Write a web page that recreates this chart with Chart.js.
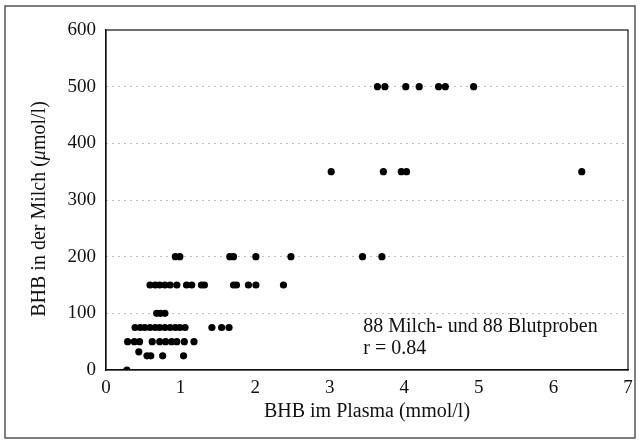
<!DOCTYPE html>
<html>
<head>
<meta charset="utf-8">
<script src="https://cdn.jsdelivr.net/npm/chart.js@4/dist/chart.umd.min.js"></script>
<style>
  html, body { margin: 0; padding: 0; background: #fff; }
  #wrap { position: relative; width: 640px; height: 444px; }
</style>
</head>
<body>
<div id="wrap"><canvas id="c" width="640" height="444"></canvas></div>
<script>
// ── BHB Milch vs. Plasma · Scatter ───────────────────────────────────────────

// ─ Data (plasma mmol/l, milk µmol/l), grouped by milk level ─────────────────
const plasmaRow0   = [0.28];
const plasmaRow25  = [0.44, 0.55, 0.60, 0.76, 1.04];
const milkRow25    = [32, 25, 25, 25, 25];
const plasmaRow50  = [0.29, 0.38, 0.45, 0.62, 0.72, 0.80, 0.88, 0.95, 1.05, 1.18];
const plasmaRow75  = [0.39, 0.46, 0.52, 0.59, 0.66, 0.72, 0.79, 0.86, 0.93, 0.99, 1.06, 1.42, 1.55, 1.65];
const plasmaRow100 = [0.68, 0.73, 0.79];
const plasmaRow150 = [0.59, 0.66, 0.72, 0.79, 0.86, 0.95, 1.08, 1.15, 1.28, 1.32, 1.71, 1.75, 1.91, 2.01, 2.38];
const plasmaRow200 = [0.93, 0.99, 1.66, 1.71, 2.01, 2.48, 3.44, 3.70];
const plasmaRow350 = [3.02, 3.72, 3.96, 4.03, 6.38];
const plasmaRow500 = [3.64, 3.74, 4.02, 4.20, 4.46, 4.55, 4.93];

const xTicks = [0, 1, 2, 3, 4, 5, 6, 7];
const yTicks = [0, 100, 200, 300, 400, 500, 600];

const X_TITLE = 'BHB im Plasma (mmol/l)';
const NOTE_LINES = ['88 Milch- und 88 Blutproben', 'r = 0.84'];

// ─ Build points ─────────────────────────────────────────────────────────────
function row(xs, level) {
  return xs.map((x, i) => ({ x, y: Array.isArray(level) ? level[i] : level }));
}
const points = [].concat(
  row(plasmaRow0, 0),
  row(plasmaRow25, milkRow25),
  row(plasmaRow50, 50),
  row(plasmaRow75, 75),
  row(plasmaRow100, 100),
  row(plasmaRow150, 150),
  row(plasmaRow200, 200),
  row(plasmaRow350, 350),
  row(plasmaRow500, 500)
);

const SERIF = '"Liberation Serif", "DejaVu Serif", serif';

// ─ Plugin: outer frame, plot box, y title, note ──────────────────────────────
const decor = {
  id: 'decor',
  beforeDraw(chart) {
    const ctx = chart.ctx;
    ctx.save();
    ctx.fillStyle = '#fff';
    ctx.fillRect(0, 0, chart.width, chart.height);
    ctx.strokeStyle = '#555';
    ctx.lineWidth = 1.5;
    ctx.strokeRect(5, 6, 630, 432);
    ctx.restore();
  },
  afterDraw(chart) {
    const ctx = chart.ctx;
    const a = chart.chartArea;
    const xs = chart.scales.x, ys = chart.scales.y;
    ctx.save();
    // plot box
    ctx.strokeStyle = '#111';
    ctx.lineWidth = 1.2;
    ctx.strokeRect(a.left, a.top, a.right - a.left, a.bottom - a.top);

    // y title with italic mu
    ctx.translate(40, 209);
    ctx.rotate(-Math.PI / 2);
    ctx.fillStyle = '#111';
    ctx.textBaseline = 'middle';
    const parts = [
      { t: 'BHB in der Milch (', f: '20px ' + SERIF },
      { t: 'μ', f: 'italic 20px ' + SERIF },
      { t: 'mol/l)', f: '20px ' + SERIF }
    ];
    let total = 0;
    parts.forEach(p => { ctx.font = p.f; p.w = ctx.measureText(p.t).width; total += p.w; });
    let px = -total / 2;
    parts.forEach(p => { ctx.font = p.f; ctx.fillText(p.t, px, 0); px += p.w; });
    ctx.setTransform(1, 0, 0, 1, 0, 0);

    // note
    ctx.font = '20px ' + SERIF;
    ctx.textAlign = 'left';
    ctx.textBaseline = 'middle';
    const nx = xs.getPixelForValue(3.45);
    ctx.fillText(NOTE_LINES[0], nx, ys.getPixelForValue(77));
    ctx.fillText(NOTE_LINES[1], nx, ys.getPixelForValue(38));
    ctx.restore();
  }
};

new Chart(document.getElementById('c').getContext('2d'), {
  type: 'scatter',
  data: {
    datasets: [{
      data: points,
      backgroundColor: '#000',
      borderColor: '#000',
      pointRadius: 3.6,
      pointBorderWidth: 0,
    }]
  },
  plugins: [decor],
  options: {
    responsive: false,
    animation: false,
    devicePixelRatio: 1,
    layout: { padding: { left: 0, top: 30, right: 12, bottom: 0 } },
    plugins: { legend: { display: false }, tooltip: { enabled: false } },
    scales: {
      x: {
        type: 'linear',
        min: 0, max: 7,
        afterBuildTicks: s => { s.ticks = xTicks.map(v => ({ value: v })); },
        afterFit: s => { s.height = 74; },
        grid: { display: false, drawTicks: false },
        border: { display: true, color: '#111', width: 1.2 },
        ticks: { color: '#111', padding: 7, font: { family: SERIF, size: 19 } },
        title: {
          display: true, text: X_TITLE, color: '#111',
          font: { family: SERIF, size: 20 },
          padding: { top: 0, bottom: 20 }
        }
      },
      y: {
        type: 'linear',
        min: 0, max: 600,
        afterBuildTicks: s => { s.ticks = yTicks.map(v => ({ value: v })); },
        afterFit: s => { s.width = 106; },
        grid: {
          drawTicks: false,
          color: c => (c.tick && (c.tick.value === 0 || c.tick.value === 600)) ? 'rgba(0,0,0,0)' : '#a8a8a8',
          lineWidth: 1
        },
        border: { display: true, color: '#111', width: 1.2, dash: [1.5, 4.5] },
        ticks: { color: '#111', padding: 10, font: { family: SERIF, size: 19 } }
      }
    }
  }
});
</script>
</body>
</html>
